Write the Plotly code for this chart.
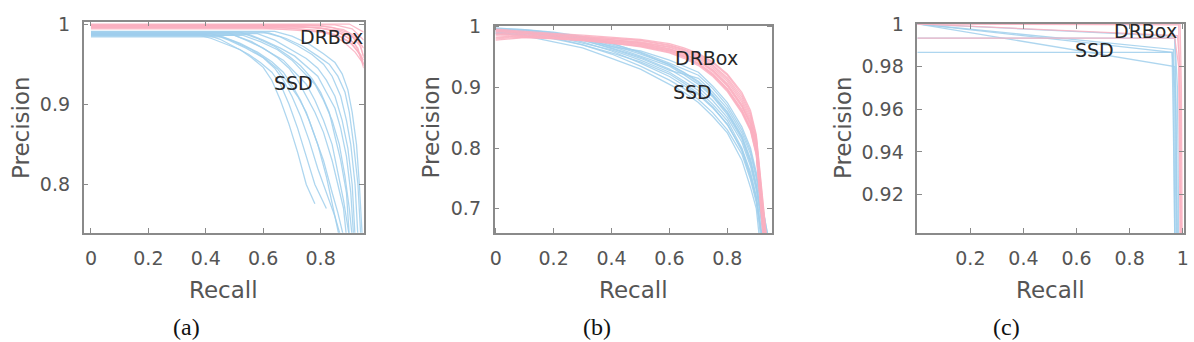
import plotly.graph_objects as go

# ---------------- data ----------------
# Panel (a)
A_SSD_REC = [
    [0, 0.38, 0.42, 0.47, 0.52, 0.56, 0.60, 0.63, 0.66, 0.69, 0.72, 0.75, 0.78],
    [0, 0.40, 0.45, 0.50, 0.55, 0.59, 0.63, 0.66, 0.69, 0.72, 0.75, 0.78, 0.80, 0.82],
    [0, 0.42, 0.48, 0.54, 0.60, 0.64, 0.67, 0.70, 0.73, 0.76, 0.79, 0.82, 0.85, 0.87],
    [0, 0.45, 0.50, 0.56, 0.61, 0.65, 0.68, 0.72, 0.75, 0.78, 0.81, 0.84, 0.86, 0.88],
    [0, 0.48, 0.54, 0.60, 0.65, 0.69, 0.72, 0.75, 0.78, 0.81, 0.84, 0.86, 0.88, 0.89],
    [0, 0.50, 0.56, 0.62, 0.67, 0.71, 0.75, 0.78, 0.81, 0.84, 0.86, 0.88, 0.90],
    [0, 0.52, 0.58, 0.64, 0.69, 0.73, 0.77, 0.80, 0.83, 0.85, 0.87, 0.89, 0.90],
    [0, 0.55, 0.60, 0.66, 0.71, 0.75, 0.79, 0.82, 0.85, 0.87, 0.89, 0.905, 0.915],
    [0, 0.58, 0.64, 0.70, 0.75, 0.79, 0.82, 0.85, 0.875, 0.895, 0.91, 0.92],
    [0, 0.60, 0.66, 0.72, 0.77, 0.81, 0.84, 0.87, 0.89, 0.905, 0.92, 0.93],
    [0, 0.62, 0.68, 0.74, 0.79, 0.83, 0.86, 0.885, 0.90, 0.915, 0.93, 0.94],
    [0, 0.64, 0.70, 0.76, 0.81, 0.85, 0.875, 0.895, 0.91, 0.925, 0.935, 0.945],
    [0, 0.46, 0.52, 0.58, 0.63, 0.67, 0.70, 0.73, 0.76, 0.79, 0.82, 0.845, 0.865],
    [0, 0.53, 0.59, 0.65, 0.70, 0.74, 0.78, 0.81, 0.84, 0.865, 0.885, 0.90, 0.91],
]
A_SSD_PRE = [
    [0.986, 0.986, 0.982, 0.975, 0.968, 0.958, 0.946, 0.930, 0.905, 0.875, 0.840, 0.800, 0.776],
    [0.987, 0.987, 0.981, 0.972, 0.962, 0.952, 0.940, 0.925, 0.900, 0.870, 0.835, 0.800, 0.785, 0.770],
    [0.988, 0.988, 0.980, 0.970, 0.958, 0.945, 0.930, 0.910, 0.885, 0.855, 0.820, 0.790, 0.760, 0.735],
    [0.985, 0.985, 0.978, 0.968, 0.956, 0.944, 0.930, 0.910, 0.890, 0.860, 0.830, 0.790, 0.765, 0.735],
    [0.989, 0.989, 0.980, 0.970, 0.958, 0.945, 0.930, 0.910, 0.890, 0.865, 0.830, 0.800, 0.770, 0.735],
    [0.986, 0.986, 0.978, 0.966, 0.955, 0.940, 0.925, 0.905, 0.880, 0.850, 0.815, 0.780, 0.735],
    [0.990, 0.990, 0.982, 0.972, 0.960, 0.948, 0.932, 0.915, 0.890, 0.860, 0.830, 0.790, 0.735],
    [0.987, 0.987, 0.980, 0.970, 0.960, 0.948, 0.935, 0.915, 0.895, 0.870, 0.835, 0.790, 0.735],
    [0.988, 0.988, 0.980, 0.968, 0.957, 0.945, 0.930, 0.910, 0.880, 0.845, 0.800, 0.735],
    [0.990, 0.990, 0.984, 0.973, 0.962, 0.950, 0.935, 0.910, 0.880, 0.850, 0.800, 0.735],
    [0.989, 0.989, 0.982, 0.972, 0.960, 0.950, 0.935, 0.915, 0.890, 0.850, 0.800, 0.735],
    [0.991, 0.991, 0.985, 0.975, 0.963, 0.952, 0.938, 0.918, 0.890, 0.850, 0.800, 0.735],
    [0.984, 0.984, 0.976, 0.965, 0.953, 0.940, 0.924, 0.905, 0.880, 0.850, 0.810, 0.770, 0.735],
    [0.986, 0.986, 0.978, 0.968, 0.955, 0.940, 0.925, 0.905, 0.880, 0.850, 0.810, 0.770, 0.735],
]
A_DRB_REC = [
    [0, 0.70, 0.80, 0.86, 0.90, 0.93, 0.95],
    [0, 0.65, 0.75, 0.83, 0.88, 0.92, 0.95],
    [0, 0.75, 0.84, 0.89, 0.93, 0.95],
    [0, 0.60, 0.72, 0.80, 0.87, 0.91, 0.95],
    [0, 0.80, 0.88, 0.92, 0.95],
    [0, 0.70, 0.82, 0.88, 0.92, 0.95],
    [0, 0.85, 0.91, 0.95],
    [0, 0.72, 0.80, 0.86, 0.90, 0.94, 0.95],
    [0, 0.78, 0.86, 0.91, 0.94, 0.95],
    [0, 0.90, 0.95],
]
A_DRB_PRE = [
    [0.998, 0.998, 0.995, 0.990, 0.982, 0.970, 0.945],
    [0.996, 0.996, 0.993, 0.988, 0.978, 0.965, 0.950],
    [0.999, 0.999, 0.996, 0.990, 0.980, 0.960],
    [0.995, 0.995, 0.992, 0.990, 0.984, 0.975, 0.955],
    [0.998, 0.998, 0.993, 0.985, 0.970],
    [0.997, 0.997, 0.994, 0.987, 0.975, 0.950],
    [0.999, 0.999, 0.994, 0.980],
    [0.994, 0.994, 0.992, 0.986, 0.978, 0.962, 0.948],
    [0.996, 0.996, 0.992, 0.984, 0.972, 0.958],
    [1.000, 1.000, 0.990],
]

# Panel (b)
B_GRID = [0, 0.1, 0.2, 0.3, 0.4, 0.5, 0.6, 0.65, 0.7, 0.75, 0.8, 0.85, 0.88, 0.9]
B_SSD_PRE = [
    [0.990, 0.985, 0.975, 0.965, 0.948, 0.930, 0.905, 0.892, 0.875, 0.852, 0.825, 0.780, 0.735, 0.700],
    [0.995, 0.990, 0.982, 0.970, 0.955, 0.935, 0.912, 0.898, 0.880, 0.858, 0.830, 0.790, 0.748, 0.710],
    [0.992, 0.988, 0.985, 0.975, 0.960, 0.940, 0.918, 0.903, 0.888, 0.866, 0.840, 0.795, 0.752, 0.715],
    [0.997, 0.992, 0.984, 0.973, 0.962, 0.945, 0.925, 0.910, 0.895, 0.872, 0.845, 0.800, 0.760, 0.720],
    [0.990, 0.990, 0.986, 0.978, 0.965, 0.950, 0.930, 0.916, 0.900, 0.878, 0.850, 0.810, 0.770, 0.730],
    [0.995, 0.993, 0.987, 0.980, 0.968, 0.952, 0.935, 0.921, 0.905, 0.884, 0.855, 0.815, 0.775, 0.735],
    [0.998, 0.995, 0.990, 0.982, 0.970, 0.955, 0.938, 0.925, 0.910, 0.888, 0.860, 0.820, 0.782, 0.740],
    [0.993, 0.990, 0.986, 0.978, 0.964, 0.948, 0.928, 0.922, 0.915, 0.892, 0.865, 0.825, 0.790, 0.750],
    [0.996, 0.994, 0.990, 0.983, 0.972, 0.958, 0.940, 0.930, 0.920, 0.898, 0.870, 0.830, 0.795, 0.755],
    [0.994, 0.992, 0.988, 0.980, 0.967, 0.960, 0.945, 0.935, 0.925, 0.902, 0.875, 0.835, 0.800, 0.760],
    [0.989, 0.987, 0.980, 0.970, 0.957, 0.942, 0.922, 0.907, 0.890, 0.868, 0.838, 0.798, 0.755, 0.718],
    [0.997, 0.995, 0.991, 0.984, 0.973, 0.957, 0.937, 0.924, 0.908, 0.886, 0.858, 0.818, 0.778, 0.738],
]
B_SSD_END = [0.91, 0.915, 0.92, 0.92, 0.925, 0.93, 0.93, 0.935, 0.94, 0.94, 0.918, 0.928]
B_DRB_PRE = [
    [0.985, 0.983, 0.980, 0.977, 0.972, 0.968, 0.958, 0.950, 0.938, 0.920, 0.895, 0.860, 0.830, 0.790],
    [0.990, 0.987, 0.984, 0.980, 0.976, 0.971, 0.962, 0.954, 0.943, 0.926, 0.902, 0.868, 0.838, 0.800],
    [0.995, 0.990, 0.986, 0.983, 0.979, 0.974, 0.966, 0.958, 0.948, 0.932, 0.910, 0.876, 0.846, 0.808],
    [0.978, 0.982, 0.981, 0.978, 0.974, 0.969, 0.960, 0.952, 0.940, 0.923, 0.898, 0.864, 0.834, 0.795],
    [0.993, 0.989, 0.987, 0.984, 0.981, 0.977, 0.969, 0.962, 0.952, 0.937, 0.916, 0.884, 0.854, 0.815],
    [0.988, 0.986, 0.983, 0.980, 0.977, 0.973, 0.964, 0.956, 0.945, 0.929, 0.906, 0.872, 0.842, 0.804],
    [0.996, 0.992, 0.989, 0.986, 0.983, 0.979, 0.972, 0.965, 0.956, 0.942, 0.922, 0.892, 0.862, 0.822],
    [0.982, 0.984, 0.982, 0.979, 0.975, 0.970, 0.960, 0.951, 0.939, 0.921, 0.897, 0.862, 0.832, 0.792],
    [0.992, 0.988, 0.985, 0.982, 0.978, 0.975, 0.967, 0.960, 0.950, 0.935, 0.913, 0.880, 0.850, 0.812],
    [0.987, 0.985, 0.983, 0.981, 0.978, 0.972, 0.963, 0.955, 0.944, 0.928, 0.904, 0.870, 0.840, 0.802],
    [0.994, 0.991, 0.988, 0.985, 0.982, 0.978, 0.970, 0.963, 0.954, 0.940, 0.920, 0.888, 0.858, 0.818],
    [0.980, 0.983, 0.981, 0.978, 0.973, 0.967, 0.957, 0.948, 0.936, 0.918, 0.893, 0.858, 0.828, 0.788],
]
B_DRB_END = [0.925, 0.928, 0.93, 0.926, 0.932, 0.93, 0.935, 0.924, 0.932, 0.929, 0.934, 0.923]
B_BOTTOM = 0.655

# Panel (c)
C_SSD_REC = [
    [0, 0.97, 0.975, 0.98],
    [0, 0.96, 0.97, 0.975],
    [0, 0.96, 0.965, 0.97],
    [0, 0.97, 0.975, 0.978],
    [0, 0.97, 0.98, 0.985],
    [0, 0.965, 0.97],
]
C_SSD_PRE = [
    [1.0, 0.980, 0.950, 0.900],
    [1.0, 0.9866, 0.970, 0.900],
    [0.9866, 0.9866, 0.950, 0.900],
    [0.9933, 0.9933, 0.960, 0.900],
    [1.0, 0.9942, 0.970, 0.900],
    [1.0, 0.988, 0.900],
]
C_DRB_REC = [
    [0, 0.99, 0.995, 0.998],
    [0, 0.98, 0.99, 0.995],
    [0, 0.97, 0.985, 0.99],
    [0, 0.985, 0.993],
]
C_DRB_PRE = [
    [1.0, 1.0, 0.970, 0.900],
    [1.0, 0.9945, 0.980, 0.900],
    [0.9933, 0.9933, 0.980, 0.900],
    [1.0, 0.9995, 0.900],
]

# ---------------- style ----------------
BLUE = "rgba(160,207,236,0.85)"
PINK = "rgba(250,175,192,0.85)"
FRAME = "#8a8a8a"
TXT = "#555555"
FONT = "DejaVu Sans"
W, H = 1194, 342

fig = go.Figure()


def add(xs, ys, color, ax):
    fig.add_trace(go.Scatter(x=xs, y=ys, mode="lines", xaxis="x" + ax, yaxis="y" + ax,
                             line=dict(color=color, width=1.3), showlegend=False,
                             hoverinfo="skip"))


for r, p in zip(A_SSD_REC, A_SSD_PRE):
    add(r, p, BLUE, "")
for r, p in zip(A_DRB_REC, A_DRB_PRE):
    add(r, p, PINK, "")
for p, e in zip(B_SSD_PRE, B_SSD_END):
    add(B_GRID + [e], p + [B_BOTTOM], BLUE, "2")
for p, e in zip(B_DRB_PRE, B_DRB_END):
    add(B_GRID + [e], p + [B_BOTTOM], PINK, "2")
for r, p in zip(C_SSD_REC, C_SSD_PRE):
    add(r, p, BLUE, "3")
for r, p in zip(C_DRB_REC, C_DRB_PRE):
    add(r, p, PINK, "3")


def axis(domain, rng, tickvals, ticktext, anchor, standoff):
    return dict(domain=domain, range=rng, tickvals=tickvals, ticktext=ticktext,
                anchor=anchor, showline=True, mirror="ticks", linecolor=FRAME, linewidth=1.5,
                ticks="inside", ticklen=5, tickcolor=FRAME, tickwidth=1.2,
                showgrid=False, zeroline=False, tickfont=dict(family=FONT, size=19, color=TXT),
                ticklabelstandoff=standoff, fixedrange=True)


def px_x(p):
    return p / W


def px_y(p):
    return 1 - p / H


xt = [0, 0.2, 0.4, 0.6, 0.8]
xtt = ["0", "0.2", "0.4", "0.6", "0.8"]
fig.update_layout(
    width=W, height=H, margin=dict(l=0, r=0, t=0, b=0),
    paper_bgcolor="white", plot_bgcolor="white",
    xaxis=axis([px_x(79.3), px_x(361.7)], [-0.0256, 0.95], xt, xtt, "y", 8),
    yaxis=axis([px_y(229), px_y(11)], [0.74, 1.003], [0.8, 0.9, 1.0], ["0.8", "0.9", "1"], "x", 8),
    xaxis2=axis([px_x(493.7), px_x(773.7)], [-0.004, 0.955], xt, xtt, "y2", 8),
    yaxis2=axis([px_y(229.3), px_y(15)], [0.66, 1.002], [0.7, 0.8, 0.9, 1.0],
                ["0.7", "0.8", "0.9", "1"], "x2", 8),
    xaxis3=axis([px_x(920), px_x(1189)], [0, 1.005], [0.2, 0.4, 0.6, 0.8, 1.0],
                ["0.2", "0.4", "0.6", "0.8", "1"], "y3", 8),
    yaxis3=axis([px_y(229.3), px_y(13.3)], [0.902, 1.0], [0.92, 0.94, 0.96, 0.98, 1.0],
                ["0.92", "0.94", "0.96", "0.98", "1"], "x3", 8),
)

ann = []
# curve labels
for ax, (dx, dy), (sx, sy) in [("", (0.837, 0.984), (0.706, 0.927)),
                               ("2", (0.728, 0.949), (0.679, 0.893)),
                               ("3", (0.858, 0.99664), (0.669, 0.98786))]:
    ann.append(dict(x=dx, y=dy, xref="x" + ax, yref="y" + ax, text="DRBox", showarrow=False,
                    xanchor="center", yanchor="middle",
                    font=dict(family=FONT, size=19, color="#262626")))
    ann.append(dict(x=sx, y=sy, xref="x" + ax, yref="y" + ax, text="SSD", showarrow=False,
                    xanchor="center", yanchor="middle",
                    font=dict(family=FONT, size=19, color="#262626")))
# axis titles and captions
for cx, px_, cap_x, cap in [(220.5, 16, 183, "(a)"), (633.7, 430, 596.7, "(b)"), (1054.5, 845, 1010, "(c)")]:
    ann.append(dict(x=px_x(cx), y=px_y(288), xref="paper", yref="paper", text="Recall",
                    xanchor="center", yanchor="middle",
                    showarrow=False, font=dict(family=FONT, size=23, color=TXT)))
    ann.append(dict(x=px_x(px_), y=px_y(120), xref="paper", yref="paper", text="Precision",
                    xanchor="center", yanchor="middle",
                    textangle=-90, showarrow=False, font=dict(family=FONT, size=23, color=TXT)))
    ann.append(dict(x=px_x(cap_x), y=px_y(326.5), xref="paper", yref="paper", text=cap,
                    xanchor="center", yanchor="middle",
                    showarrow=False, font=dict(family="Liberation Serif", size=24, color="#111111")))
fig.update_layout(annotations=ann)

fig.write_html("out.html")
